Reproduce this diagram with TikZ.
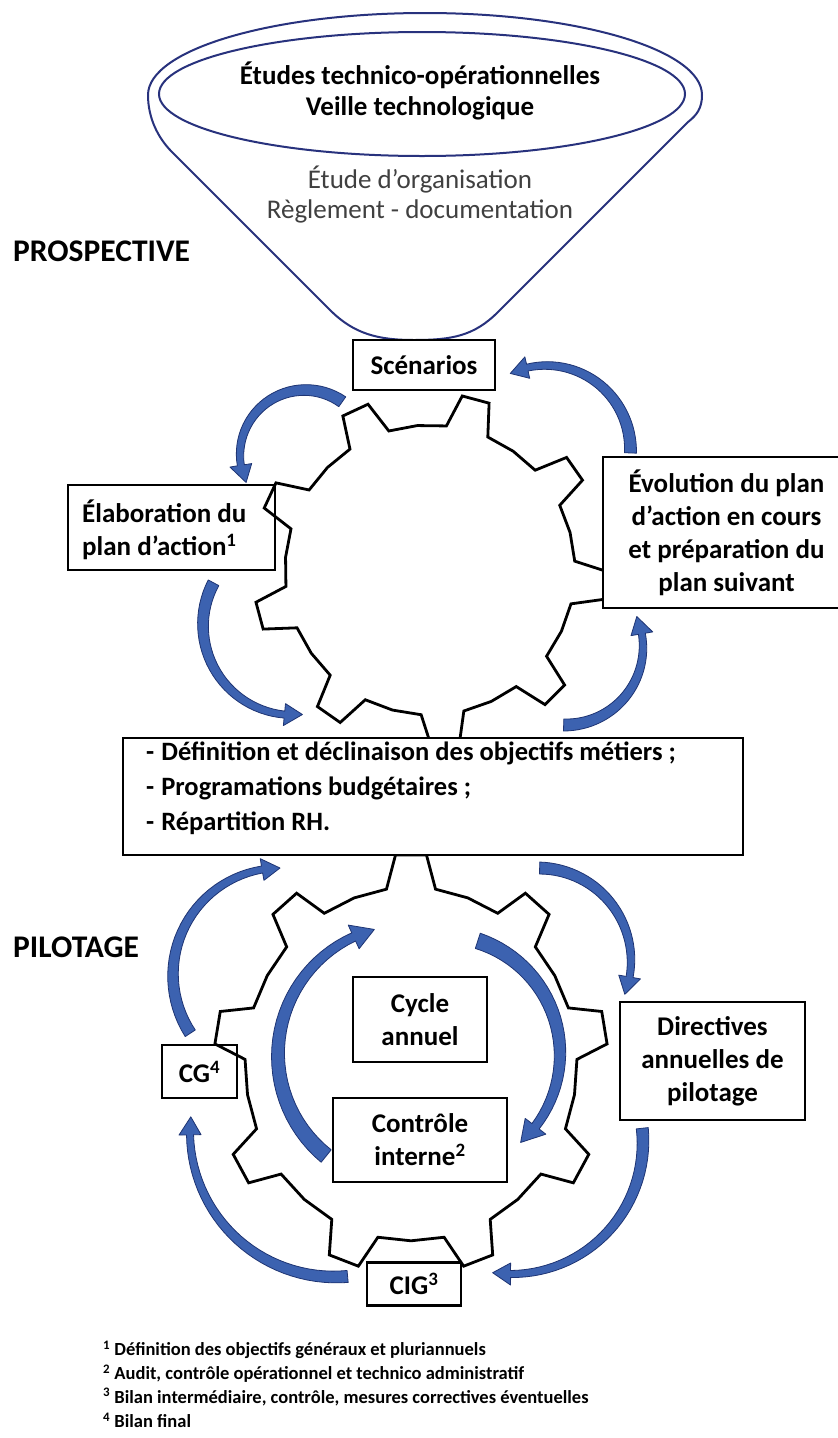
\documentclass[tikz,border=0pt]{standalone}
\usepackage{fontspec}
\setmainfont{Carlito}
\usetikzlibrary{calc}
\definecolor{navy}{RGB}{40,50,125}
\definecolor{arrfill}{RGB}{60,98,176}
\definecolor{arredge}{RGB}{30,52,115}
\definecolor{txtgray}{RGB}{64,64,64}
\newcommand{\lab}{\fontsize{27}{33}\selectfont\bfseries}
\newcommand{\labreg}{\fontsize{27}{33}\selectfont}
% tapered curved arrow: cx, cy(px, down), r, tail angle, tip angle, tail width, neck width
\newcommand{\carrow}[7]{%
  \pgfmathsetmacro{\cax}{#1}%
  \pgfmathsetmacro{\cay}{-(#2)}%
  \pgfmathsetmacro{\car}{#3}%
  \pgfmathsetmacro{\cat}{#4}%
  \pgfmathsetmacro{\catip}{#5}%
  \pgfmathsetmacro{\cdir}{((#5)>(#4))?1:-1}%
  \pgfmathsetmacro{\can}{(#5)-(\cdir)*(\arrhl)/(#3)*57.29578}%
  \pgfmathsetmacro{\cwt}{#6}%
  \pgfmathsetmacro{\cwn}{#7}%
  \filldraw[arrowstyle]
    plot[domain=0:1,samples=31,variable=\t]
      ({\cax+(\car+(\cwt+(\cwn-\cwt)*\t)/2)*cos((\cat)+((\can)-(\cat))*\t)},
       {\cay+(\car+(\cwt+(\cwn-\cwt)*\t)/2)*sin((\cat)+((\can)-(\cat))*\t)})
    -- ({\cax+(\car+\arrhw)*cos(\can)},{\cay+(\car+\arrhw)*sin(\can)})
    -- ({\cax+\car*cos(\catip)},{\cay+\car*sin(\catip)})
    -- ({\cax+(\car-\arrhw)*cos(\can)},{\cay+(\car-\arrhw)*sin(\can)})
    -- plot[domain=0:1,samples=31,variable=\t]
      ({\cax+(\car-(\cwn+(\cwt-\cwn)*\t)/2)*cos((\can)+((\cat)-(\can))*\t)},
       {\cay+(\car-(\cwn+(\cwt-\cwn)*\t)/2)*sin((\can)+((\cat)-(\can))*\t)})
    -- cycle;}
% gear: cx, cy(px down), root radius, tip radius, angle offset, yscale
\newcommand{\gearshape}[6]{%
  \draw[gearline, shift={(#1,-#2)}, yscale=#6]
    ({#5-8.5}:#3)
    \foreach \k in {0,...,8}{
      -- ({#5+40*\k-8.5}:#3) -- ({#5+40*\k-4.5}:#4) -- ({#5+40*\k+4.5}:#4)
      -- ({#5+40*\k+8.5}:#3) -- ({#5+40*\k+20}:#3)
    } -- cycle;}
\begin{document}
\begin{tikzpicture}[x=1pt,y=1pt,
  lbox/.style={draw=black, line width=2.2pt, fill=white, inner sep=0pt, font=\lab},
  gearline/.style={draw=black, line width=2.8pt, line join=miter},
  arrowstyle/.style={fill=arrfill, draw=arredge, line width=0.8pt, line join=round},
  funnel/.style={draw=navy, line width=2pt},
  ftn/.style={anchor=west, inner sep=0pt, font=\fontsize{18.5}{24}\selectfont\bfseries},
  sect/.style={anchor=west, inner sep=0pt, font=\fontsize{31.5}{37}\selectfont\bfseries}]
\clip (0,0) rectangle (838,-1438);
\fill[white] (0,0) rectangle (838,-1438);

% funnel
\draw[funnel] (172,-152) .. controls (158,-138) and (148,-118) .. (148,-95)
  arc[start angle=180,end angle=0,x radius=277,y radius=82]
  .. controls (702,-108) and (697,-115) .. (688,-122)
  -- (498,-312) .. controls (474,-336) and (452,-340) .. (414,-340)
  .. controls (378,-340) and (354,-334) .. (330,-310) -- cycle;
\draw[funnel] (422,-94) ellipse[x radius=263, y radius=62];
\node[font=\lab] (t1) at (420,-75) {Études technico-opérationnelles};
\node[font=\lab] (t2) at (420,-108) {Veille technologique};
\node[font=\labreg, text=txtgray] (t3) at (420,-180) {Étude d’organisation};
\node[font=\labreg, text=txtgray] (t4) at (420,-211) {Règlement - documentation};

% section labels
\node[sect] (prosp) at (13,-251) {PROSPECTIVE};
\node[sect] (pilot) at (13,-947) {PILOTAGE};

% boxes under gears
\node[lbox, minimum width=207, minimum height=85] (elab) at (171.5,-527.5) {};
\node[anchor=west, inner sep=0pt, align=left, font=\lab] (elabtext) at (82,-530) {Élaboration du\\plan d’action\textsuperscript{1}};
\node[lbox, minimum width=75, minimum height=53] (cg) at (199.5,-1071.5) {CG\textsuperscript{4}};

% gears
\gearshape{430}{570}{145}{177}{-5}{1}
\gearshape{411}{1064}{166}{197}{10}{1.065}

% boxes over gears
\node[lbox, minimum width=142, minimum height=50] (scen) at (424,-365) {Scénarios};
\node[lbox, minimum width=247, minimum height=151, align=center] (evol) at (726.5,-532.5) {Évolution du plan\\d’action en cours\\et préparation du\\plan suivant};
\node[lbox, minimum width=620, minimum height=117] (main) at (433,-796.5) {};
\node[anchor=west, inner sep=0pt, align=left, font=\fontsize{26.5}{35}\selectfont\bfseries] (maintext) at (146,-788)
  {-\hspace{7pt}Définition et déclinaison des objectifs métiers ;\\-\hspace{7pt}Programations budgétaires ;\\-\hspace{7pt}Répartition RH.};
\node[lbox, minimum width=185, minimum height=118, align=center] (dir) at (712.5,-1061) {Directives\\annuelles de\\pilotage};
\node[lbox, minimum width=94, minimum height=43] (cig) at (414,-1284) {CIG\textsuperscript{3}};

% outer arrows
\def\arrhl{18}\def\arrhw{11}
\carrow{305}{455}{65}{55}{205}{12}{7}
\carrow{293}{625}{90}{152}{276}{12}{7}
\carrow{565}{647}{78}{-91}{23}{12}{7}
\carrow{546}{450}{84.5}{-2}{115}{12}{7}
\carrow{280}{975}{107}{213}{90}{12}{7}
\carrow{335}{1132}{145}{275}{174}{12}{7}
\carrow{511}{1142}{132}{6}{-98}{12}{7}
\carrow{538}{961}{93}{89}{-21}{12}{7}
% inner arrows
\def\arrhl{22}\def\arrhw{13}
\carrow{408}{1055}{130}{231}{105}{16}{9}
\carrow{441}{1054}{119}{72}{-48}{16}{9}

% inner boxes
\node[lbox, minimum width=134, minimum height=85, align=center] (cyc) at (420,-1019.5) {Cycle\\annuel};
\node[lbox, minimum width=174, minimum height=84, align=center] (ctrl) at (420,-1140) {Contrôle\\interne\textsuperscript{2}};

% footnotes
\node[ftn] (f1) at (103,-1350) {\textsuperscript{1} Définition des objectifs généraux et pluriannuels};
\node[ftn] (f2) at (103,-1373.5) {\textsuperscript{2} Audit, contrôle opérationnel et technico administratif};
\node[ftn] (f3) at (103,-1397) {\textsuperscript{3} Bilan intermédiaire, contrôle, mesures correctives éventuelles};
\node[ftn] (f4) at (103,-1420.5) {\textsuperscript{4} Bilan final};
\end{tikzpicture}
\end{document}
